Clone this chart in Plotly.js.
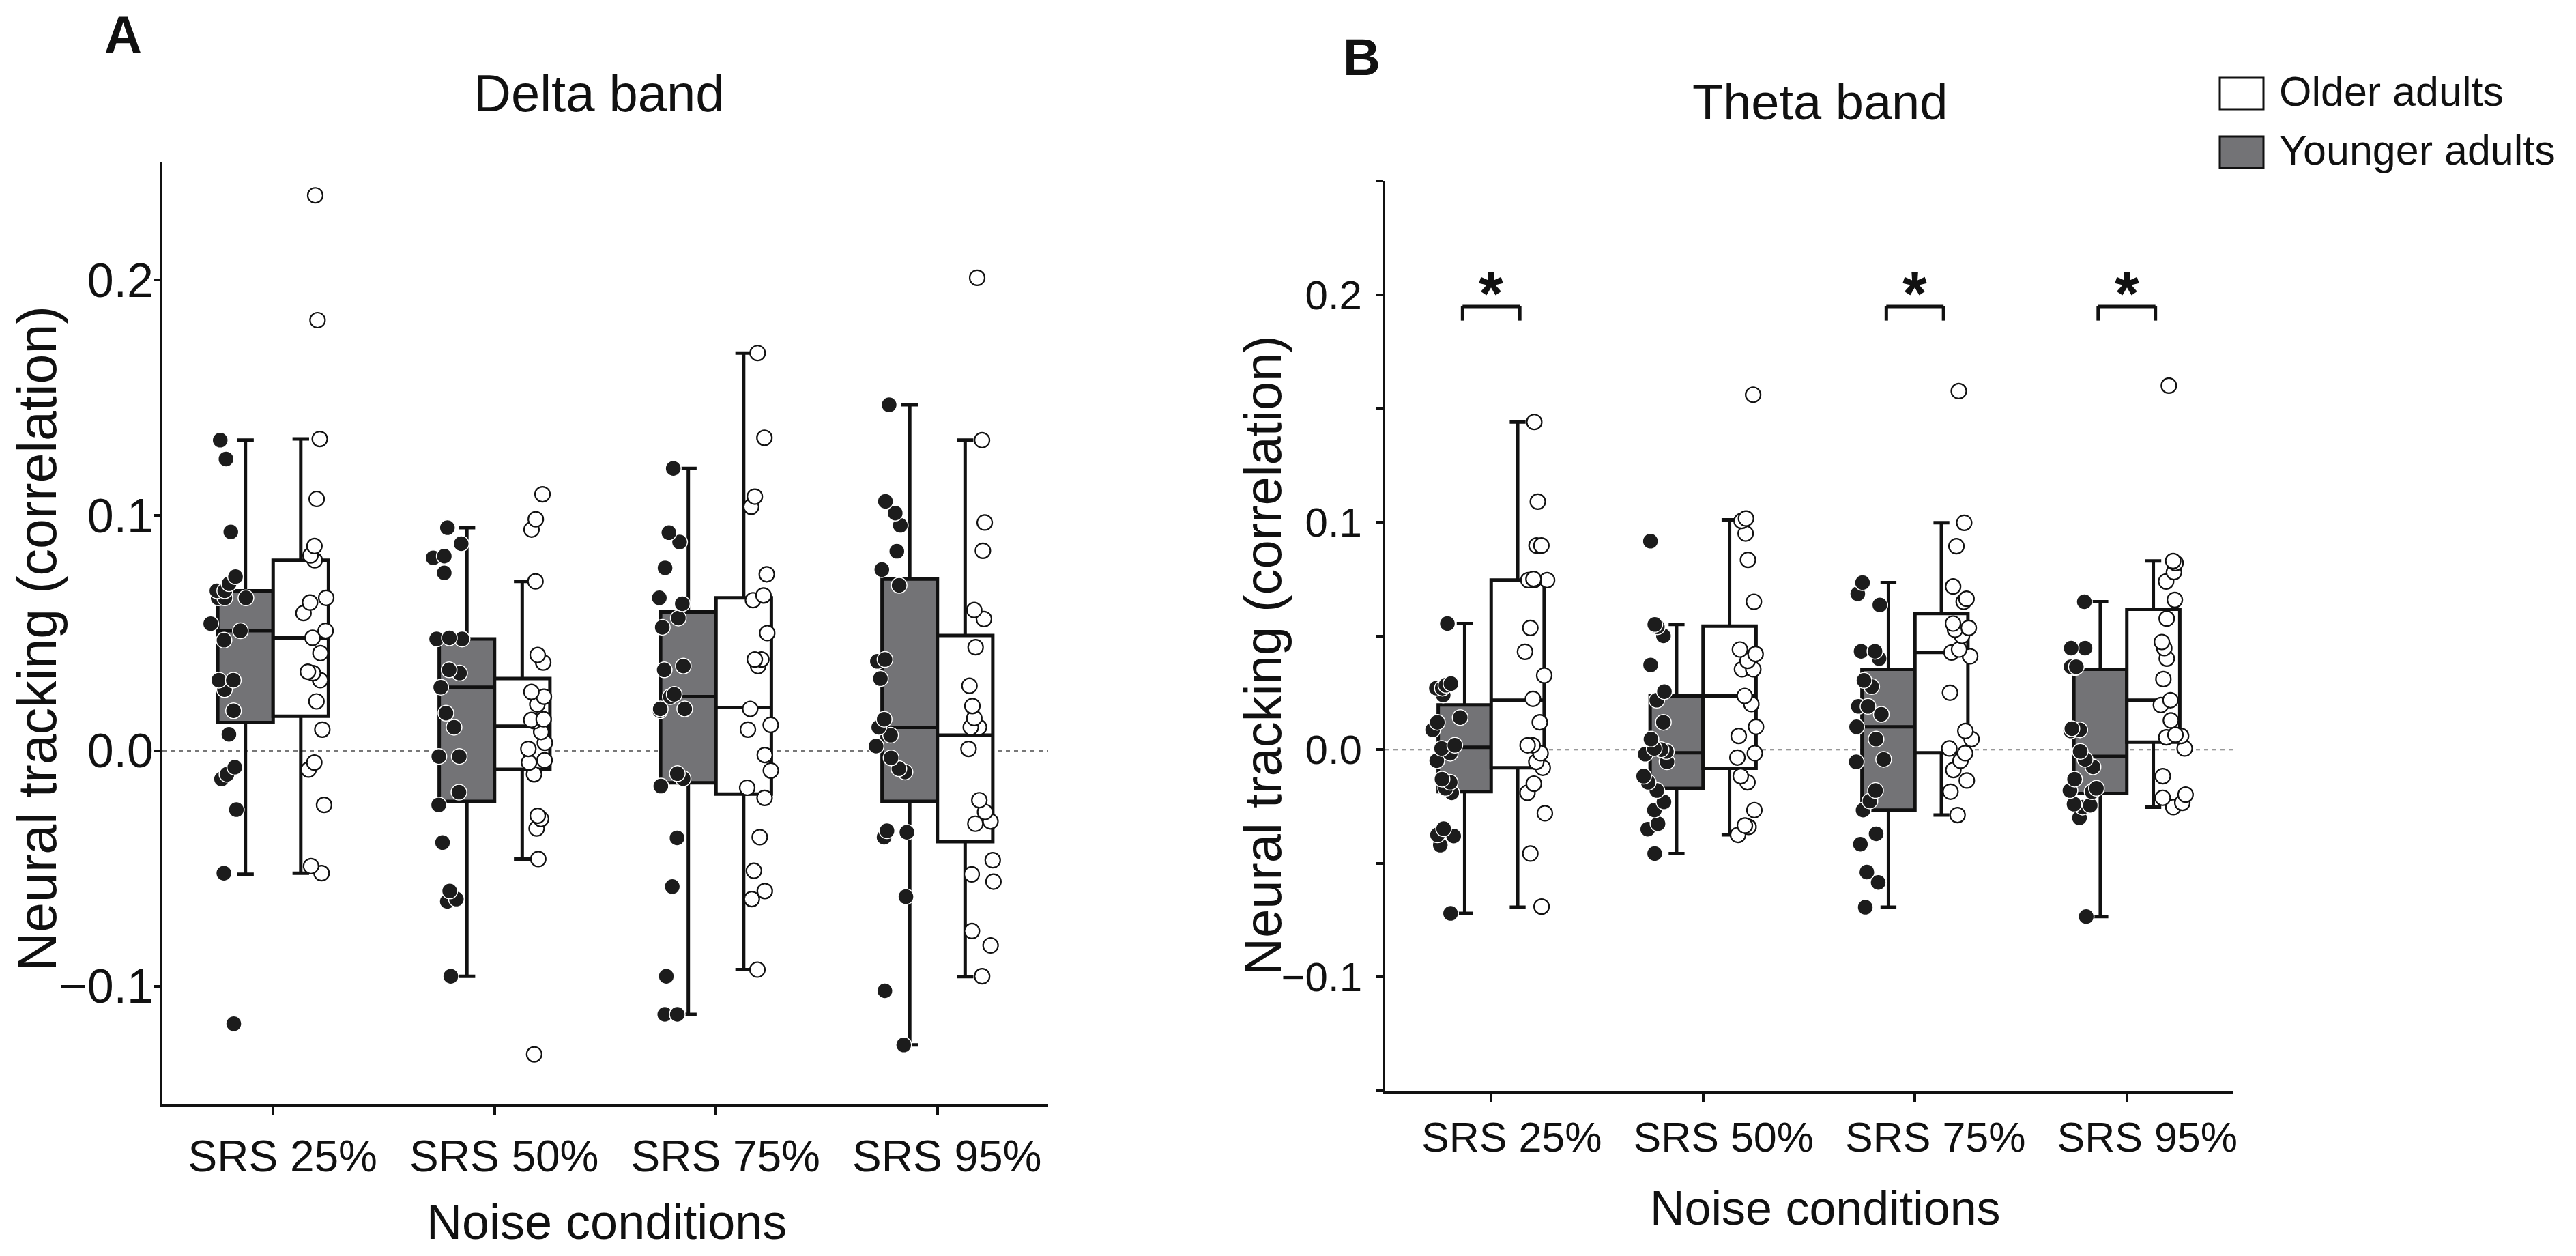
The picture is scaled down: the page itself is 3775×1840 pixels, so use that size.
<!DOCTYPE html>
<html><head><meta charset="utf-8">
<script src="https://cdn.plot.ly/plotly-3.0.1.min.js"></script>
<style>html,body{margin:0;padding:0;background:#fff}#chart{width:3775px;height:1840px}</style>
</head><body><div id="chart"></div>
<script>
// ---------------- data ----------------
const categories = ['SRS 25%', 'SRS 50%', 'SRS 75%', 'SRS 95%'];
const groupNames = ['Younger adults', 'Older adults'];
const panelTitles = ['Delta band', 'Theta band'];
const panelLetters = ['A', 'B'];
const yAxisTitle = 'Neural tracking (correlation)';
const xAxisTitle = 'Noise conditions';

// Delta band (panel A) box statistics
const deltaYoungQ1 = [0.012, -0.0215, -0.0136, -0.0215];
const deltaYoungMedian = [0.051, 0.027, 0.023, 0.010];
const deltaYoungQ3 = [0.068, 0.0475, 0.059, 0.073];
const deltaYoungLower = [-0.0525, -0.0958, -0.112, -0.125];
const deltaYoungUpper = [0.132, 0.0948, 0.120, 0.147];
const deltaOldQ1 = [0.0147, -0.0079, -0.0184, -0.0386];
const deltaOldMedian = [0.048, 0.0105, 0.0184, 0.0066];
const deltaOldQ3 = [0.081, 0.0307, 0.065, 0.049];
const deltaOldLower = [-0.052, -0.046, -0.093, -0.096];
const deltaOldUpper = [0.1325, 0.072, 0.169, 0.132];

// Delta band individual values (one array per condition)
const deltaYoungPts = [
  [0.132, 0.124, 0.093, 0.074, 0.071, 0.068, 0.068, 0.065, 0.065, 0.065, 0.054, 0.051, 0.047, 0.030, 0.030, 0.026, 0.017, 0.007, -0.007, -0.010, -0.012, -0.025, -0.052, -0.116],
  [0.0948, 0.088, 0.0827, 0.082, 0.0756, 0.048, 0.0475, 0.0475, 0.0475, 0.0344, 0.033, 0.027, 0.016, 0.010, -0.0024, -0.0024, -0.0176, -0.023, -0.039, -0.0596, -0.063, -0.064, -0.0958],
  [0.120, 0.0927, 0.0887, 0.0777, 0.065, 0.0625, 0.0564, 0.0525, 0.036, 0.0344, 0.024, 0.023, 0.0178, 0.0178, 0.017, -0.0097, -0.0118, -0.015, -0.037, -0.0577, -0.0958, -0.112, -0.112],
  [0.147, 0.106, 0.101, 0.0958, 0.0848, 0.077, 0.0703, 0.0388, 0.038, 0.0307, 0.0134, 0.010, 0.0066, 0.002, -0.003, -0.0076, -0.009, -0.0346, -0.034, -0.0367, -0.062, -0.102, -0.125]
];
const deltaOldPts = [
  [0.236, 0.183, 0.1325, 0.107, 0.087, 0.083, 0.081, 0.065, 0.063, 0.0585, 0.051, 0.048, 0.0415, 0.0336, 0.033, 0.030, 0.021, 0.009, -0.005, -0.008, -0.023, -0.049, -0.052],
  [0.109, 0.0984, 0.094, 0.072, 0.0407, 0.0375, 0.025, 0.023, 0.0197, 0.0126, 0.0134, 0.0131, 0.008, 0.0034, 0.0008, -0.004, -0.005, -0.010, -0.029, -0.0276, -0.033, -0.046, -0.129],
  [0.169, 0.133, 0.108, 0.1037, 0.075, 0.066, 0.064, 0.050, 0.0388, 0.036, 0.0388, 0.0178, 0.011, 0.009, -0.0018, -0.0084, -0.0157, -0.020, -0.0367, -0.051, -0.0596, -0.063, -0.093],
  [0.201, 0.132, 0.097, 0.085, 0.0598, 0.056, 0.044, 0.0276, 0.019, 0.0139, 0.010, 0.010, 0.0008, -0.021, -0.026, -0.030, -0.031, -0.0465, -0.0525, -0.0556, -0.0766, -0.0827, -0.0958]
];

// Theta band (panel B) box statistics
const thetaYoungQ1 = [-0.0185, -0.0171, -0.0266, -0.0193];
const thetaYoungMedian = [0.001, -0.0014, 0.010, -0.003];
const thetaYoungQ3 = [0.0196, 0.0236, 0.0353, 0.0353];
const thetaYoungLower = [-0.072, -0.0457, -0.0693, -0.0734];
const thetaYoungUpper = [0.0554, 0.055, 0.0734, 0.065];
const thetaOldQ1 = [-0.008, -0.0082, -0.0014, 0.0033];
const thetaOldMedian = [0.0217, 0.0236, 0.0427, 0.0217];
const thetaOldQ3 = [0.0745, 0.0543, 0.0598, 0.0617];
const thetaOldLower = [-0.0693, -0.0375, -0.0288, -0.0253];
const thetaOldUpper = [0.144, 0.101, 0.0997, 0.0829];

const thetaYoungPts = [
  [0.0554, 0.029, 0.0283, 0.027, 0.027, 0.024, 0.0141, 0.012, 0.0087, 0.0019, 0.0005, -0.0016, -0.0049, -0.013, -0.0144, -0.017, -0.019, -0.0348, -0.0375, -0.038, -0.042, -0.072],
  [0.0916, 0.055, 0.054, 0.050, 0.0372, 0.0255, 0.0217, 0.012, 0.0046, 0.0005, 0.0, -0.0008, -0.002, -0.0054, -0.0117, -0.0144, -0.018, -0.023, -0.0266, -0.0326, -0.035, -0.0457],
  [0.0734, 0.0685, 0.0636, 0.0432, 0.0432, 0.040, 0.0304, 0.0277, 0.019, 0.019, 0.0155, 0.010, 0.0046, -0.0043, -0.0054, -0.018, -0.0226, -0.0266, -0.037, -0.0416, -0.0538, -0.0584, -0.0693],
  [0.065, 0.0446, 0.0446, 0.0364, 0.0364, 0.036, 0.0364, 0.0087, 0.0082, 0.0092, -0.0008, -0.0043, -0.0076, -0.013, -0.017, -0.018, -0.0185, -0.024, -0.0245, -0.0253, -0.030, -0.0734]
];
const thetaOldPts = [
  [0.144, 0.109, 0.0897, 0.0897, 0.0745, 0.0745, 0.0745, 0.075, 0.0535, 0.043, 0.0326, 0.0223, 0.012, 0.0019, 0.0019, -0.0016, -0.0054, -0.008, -0.015, -0.019, -0.028, -0.0457, -0.069],
  [0.156, 0.1016, 0.1005, 0.095, 0.0834, 0.065, 0.044, 0.042, 0.039, 0.0353, 0.0353, 0.0236, 0.020, 0.010, 0.006, -0.0016, -0.0035, -0.0117, -0.0144, -0.0266, -0.0334, -0.034, -0.0375],
  [0.1576, 0.0997, 0.0894, 0.0717, 0.0663, 0.065, 0.0554, 0.0527, 0.0535, 0.050, 0.044, 0.0427, 0.041, 0.025, 0.0082, 0.0046, 0.0005, -0.0016, -0.0049, -0.009, -0.0136, -0.0185, -0.0288],
  [0.160, 0.0829, 0.082, 0.078, 0.0739, 0.0658, 0.0576, 0.0473, 0.0446, 0.040, 0.031, 0.0217, 0.0196, 0.0128, 0.0065, 0.006, 0.0054, 0.0005, -0.0117, -0.0212, -0.0198, -0.0234, -0.0253]
];

// significant Younger vs Older differences in theta band
const thetaSignificant = ['SRS 25%', 'SRS 75%', 'SRS 95%'];
const sigMark = '*';

// axis ticks
const yTickValsA = [-0.1, 0.0, 0.1, 0.2];
const yTickTextA = ['\u22120.1', '0.0', '0.1', '0.2'];
const yTickValsB = [-0.15, -0.1, -0.05, 0.0, 0.05, 0.1, 0.15, 0.2, 0.25];
const yTickTextB = ['', '\u22120.1', '', '0.0', '', '0.1', '', '0.2', ''];
const yRange = [-0.15, 0.25];

// ---------------- style ----------------
const FONT = 'Liberation Sans, Arial, Helvetica, sans-serif';
const INK = '#111111';
const DARK_FILL = '#737376';
const W = 3775, H = 1840;

function statBox(q1, med, q3, lo, hi, xa, ya, og, ag, fill, name) {
  return {
    type: 'box', name: name, x: categories, q1: q1, median: med, q3: q3,
    lowerfence: lo, upperfence: hi, xaxis: xa, yaxis: ya,
    offsetgroup: og, alignmentgroup: ag, boxpoints: false,
    fillcolor: fill, line: { color: INK, width: 5 }, whiskerwidth: 0.3,
    showlegend: false, hoverinfo: 'skip'
  };
}
function pointBox(pts, xa, ya, og, ag, pos, jit, marker, name) {
  const xs = [], ys = [];
  pts.forEach((arr, i) => arr.forEach(v => { xs.push(categories[i]); ys.push(v); }));
  return {
    type: 'box', name: name, x: xs, y: ys, xaxis: xa, yaxis: ya,
    offsetgroup: og, alignmentgroup: ag, boxpoints: 'all', jitter: jit, pointpos: pos,
    fillcolor: 'rgba(0,0,0,0)', line: { color: 'rgba(0,0,0,0)', width: 0 }, whiskerwidth: 0,
    marker: marker, showlegend: false, hoverinfo: 'y'
  };
}
const darkMarker = { color: '#1c1c1c', size: 23, line: { color: '#ffffff', width: 1.5 } };
const lightMarker = { color: '#ffffff', size: 22, line: { color: INK, width: 2.2 } };

const traces = [
  statBox(deltaYoungQ1, deltaYoungMedian, deltaYoungQ3, deltaYoungLower, deltaYoungUpper, 'x', 'y', 'yA', 'A', DARK_FILL, groupNames[0]),
  statBox(deltaOldQ1, deltaOldMedian, deltaOldQ3, deltaOldLower, deltaOldUpper, 'x', 'y', 'oA', 'A', '#ffffff', groupNames[1]),
  statBox(thetaYoungQ1, thetaYoungMedian, thetaYoungQ3, thetaYoungLower, thetaYoungUpper, 'x2', 'y2', 'yB', 'B', DARK_FILL, groupNames[0]),
  statBox(thetaOldQ1, thetaOldMedian, thetaOldQ3, thetaOldLower, thetaOldUpper, 'x2', 'y2', 'oB', 'B', '#ffffff', groupNames[1]),
  pointBox(deltaYoungPts, 'x', 'y', 'yA', 'A', -0.58, 0.7, darkMarker, groupNames[0]),
  pointBox(deltaOldPts, 'x', 'y', 'oA', 'A', 0.58, 0.5, lightMarker, groupNames[1]),
  pointBox(thetaYoungPts, 'x2', 'y2', 'yB', 'B', -0.7, 0.6, darkMarker, groupNames[0]),
  pointBox(thetaOldPts, 'x2', 'y2', 'oB', 'B', 0.72, 0.5, lightMarker, groupNames[1])
];

function xAxis(domain, anchor, fontSize, shift, standoff) {
  return {
    domain: domain, anchor: anchor, type: 'category', categoryorder: 'array', categoryarray: categories,
    range: [-0.5, 3.5], showline: true, linewidth: 4, linecolor: INK, mirror: false,
    ticks: 'outside', ticklen: 12, tickwidth: 4, tickcolor: INK,
    tickfont: { family: FONT, size: fontSize, color: INK }, ticklabelshift: shift, ticklabelstandoff: standoff,
    showgrid: false, zeroline: false, fixedrange: true
  };
}
function yAxis(domain, anchor, vals, text, fontSize, len, standoff) {
  return {
    domain: domain, anchor: anchor, range: yRange, tickmode: 'array', tickvals: vals, ticktext: text,
    showline: true, linewidth: 4, linecolor: INK, ticks: 'outside', ticklen: len, tickwidth: 4, tickcolor: INK,
    tickfont: { family: FONT, size: fontSize, color: INK }, ticklabelstandoff: standoff,
    showgrid: false, zeroline: false, fixedrange: true
  };
}

const shapes = [
  { type: 'line', xref: 'x domain', yref: 'y', x0: 0, x1: 1, y0: 0, y1: 0, line: { color: '#777', width: 2, dash: '6px,6px' }, layer: 'below' },
  { type: 'line', xref: 'x2 domain', yref: 'y2', x0: 0, x1: 1, y0: 0, y1: 0, line: { color: '#777', width: 2, dash: '6px,6px' }, layer: 'below' },
  // legend swatches
  { type: 'rect', xref: 'paper', yref: 'paper', x0: 3253 / W, x1: 3317 / W, y0: 1 - 160 / H, y1: 1 - 114 / H, fillcolor: '#ffffff', line: { color: INK, width: 3 } },
  { type: 'rect', xref: 'paper', yref: 'paper', x0: 3253 / W, x1: 3317 / W, y0: 1 - 246 / H, y1: 1 - 200 / H, fillcolor: DARK_FILL, line: { color: INK, width: 3 } }
];
const bracketTop = 0.1948, bracketFoot = 0.1886, half = 0.135;
const annotations = [];
thetaSignificant.forEach(c => {
  const i = categories.indexOf(c);
  const ln = { color: INK, width: 5 };
  shapes.push({ type: 'line', xref: 'x2', yref: 'y2', x0: i - half, x1: i + half, y0: bracketTop, y1: bracketTop, line: ln });
  shapes.push({ type: 'line', xref: 'x2', yref: 'y2', x0: i - half, x1: i - half, y0: bracketFoot, y1: bracketTop, line: ln });
  shapes.push({ type: 'line', xref: 'x2', yref: 'y2', x0: i + half, x1: i + half, y0: bracketFoot, y1: bracketTop, line: ln });
  annotations.push({ xref: 'x2', yref: 'y2', x: i, y: 0.2065, yshift: -20, text: '<b>' + sigMark + '</b>', showarrow: false,
    xanchor: 'center', yanchor: 'middle', font: { family: FONT, size: 92, color: INK } });
});

function txt(x, y, text, size, opts) {
  return Object.assign({ xref: 'paper', yref: 'paper', x: x / W, y: 1 - y / H, text: text, showarrow: false,
    xanchor: 'center', yanchor: 'middle', font: { family: FONT, size: size, color: INK } }, opts || {});
}
annotations.push(
  txt(180, 50, '<b>' + panelLetters[0] + '</b>', 76),
  txt(1995, 84, '<b>' + panelLetters[1] + '</b>', 76),
  txt(878, 137, panelTitles[0], 76),
  txt(2667, 149, panelTitles[1], 74),
  txt(55, 936, yAxisTitle, 79, { textangle: -90 }),
  txt(1850, 960, yAxisTitle, 76, { textangle: -90 }),
  txt(889, 1790, xAxisTitle, 72),
  txt(2675, 1770, xAxisTitle, 70),
  txt(3338, 134, groupNames[1], 61, { xanchor: 'left' }),
  txt(3338, 220, groupNames[0], 61, { xanchor: 'left' })
);

const layout = {
  width: W, height: H, margin: { l: 0, r: 0, t: 0, b: 0 },
  paper_bgcolor: '#ffffff', plot_bgcolor: '#ffffff', showlegend: false,
  boxmode: 'group', boxgap: 0.5, boxgroupgap: 0,
  font: { family: FONT, color: INK },
  xaxis: xAxis([238 / W, 1536 / W], 'y', 64, 14, 6),
  yaxis: yAxis([1 - 1617 / H, 1 - 238 / H], 'x', yTickValsA, yTickTextA, 70, 8, -13),
  xaxis2: xAxis([2030 / W, 3272 / W], 'y2', 61, 30, 0),
  yaxis2: yAxis([1 - 1598 / H, 1 - 265 / H], 'x2', yTickValsB, yTickTextB, 60, 10, 8),
  shapes: shapes, annotations: annotations
};

Plotly.newPlot('chart', traces, layout, { displayModeBar: false, staticPlot: true });
</script>
</body></html>
